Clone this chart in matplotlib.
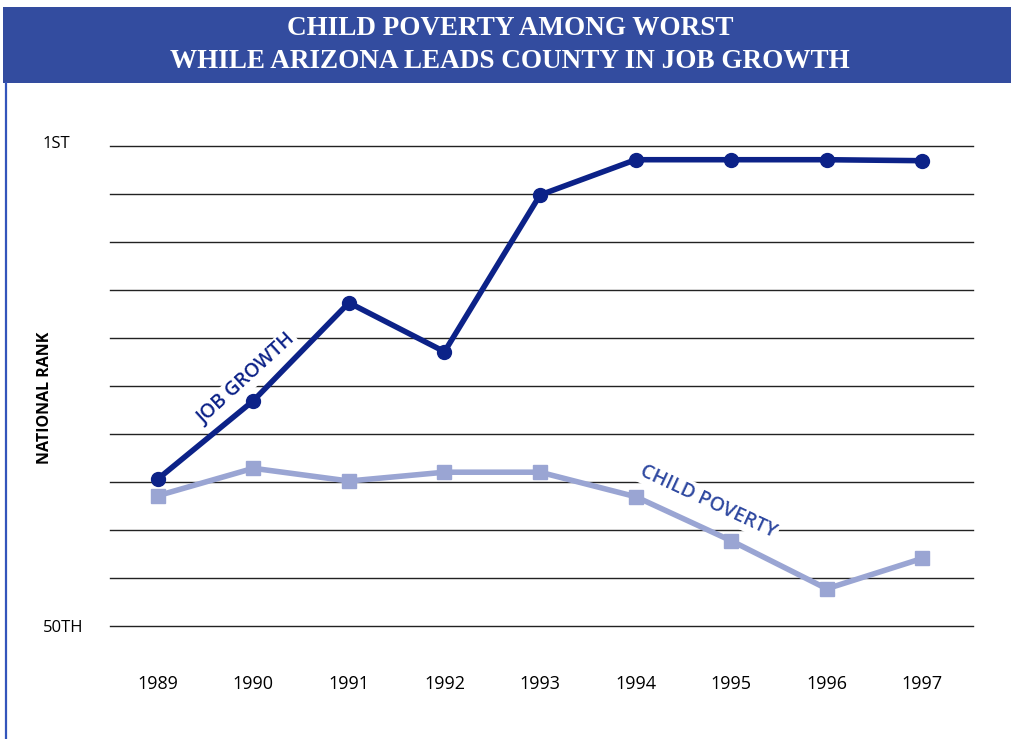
import numpy as np
import matplotlib
matplotlib.use('Agg')
from matplotlib import pyplot as plt
from matplotlib import transforms
from matplotlib.patches import Rectangle
from matplotlib.lines import Line2D

# national rank by year (1 = best, 50 = worst)
years = [1989, 1990, 1991, 1992, 1993, 1994, 1995, 1996, 1997]
job_growth = [35, 27, 17, 22, 6, 2.4, 2.4, 2.4, 2.5]
child_poverty = [36.7, 33.9, 35.2, 34.3, 34.3, 36.8, 41.3, 46.2, 43.1]
rank_ticks = [1, 50]
rank_labels = ['1ST', '50TH']

title = 'CHILD POVERTY AMONG WORST\nWHILE ARIZONA LEADS COUNTY IN JOB GROWTH'

W, H = 1011, 739
fig = plt.figure(figsize=(W / 100, H / 100), dpi=100)

# header banner and left rule
fig.patches.append(Rectangle((3 / W, (H - 83) / H), 1 - 3 / W, 76 / H,
                             transform=fig.transFigure, fc='#334c9f', ec='none'))
fig.lines.append(Line2D([6 / W, 6 / W], [0, (H - 83) / H], transform=fig.transFigure,
                        color='#3355bb', lw=1.6))
fig.text(510 / W, (H - 45) / H, title, ha='center', va='center', color='white',
         family='Liberation Serif', weight='bold', fontsize=19.5, linespacing=1.45)

ax = fig.add_axes([110 / W, (H - 626) / H, (973 - 110) / W, 480 / H])
ax.set_xlim(1988.5, 1997.53)
ax.set_ylim(50, 1)
for s in ax.spines.values():
    s.set_visible(False)

for r in np.linspace(1, 50, 11):
    ax.axhline(r, color='#222222', lw=1, zorder=1, clip_on=False)

ax.plot(years, child_poverty, color='#9aa5d3', lw=4, marker='s', ms=10,
        clip_on=False, zorder=3)
ax.plot(years, job_growth, color='#0c2288', lw=4, marker='o', ms=10,
        clip_on=False, zorder=4)

# series labels along the lines
box = dict(fc='white', ec='none', pad=1.5)
ax.text(1989.93, 24.8, 'JOB GROWTH', rotation=42.5, rotation_mode='anchor',
        ha='center', va='center', color='#0c2288', family='Open Sans',
        weight='semibold', fontsize=14, bbox=box, zorder=2)
ax.text(1994.76, 37.3, 'CHILD POVERTY', rotation=-25, rotation_mode='anchor',
        ha='center', va='center', color='#2e48a0', family='Open Sans',
        weight='semibold', fontsize=14, bbox=box, zorder=2)

ax.set_xticks(years)
ax.set_xticklabels([str(y) for y in years], family='Open Sans', fontsize=13)
ax.tick_params(axis='x', length=0, pad=35)
ax.set_yticks([])

# rank labels, left aligned at the page margin
trans = transforms.blended_transform_factory(fig.transFigure, ax.transData)
for r, lab, dy in zip(rank_ticks, rank_labels, [-0.2, 0.2]):
    ax.text(43 / W, r + dy, lab, transform=trans, ha='left', va='center',
            family='Open Sans', fontsize=12)

fig.text(45 / W, (H - 398) / H, 'NATIONAL RANK', rotation=90, ha='center',
         va='center', family='Open Sans', weight='bold', fontsize=11.5)

plt.savefig('out.png', dpi=100)
